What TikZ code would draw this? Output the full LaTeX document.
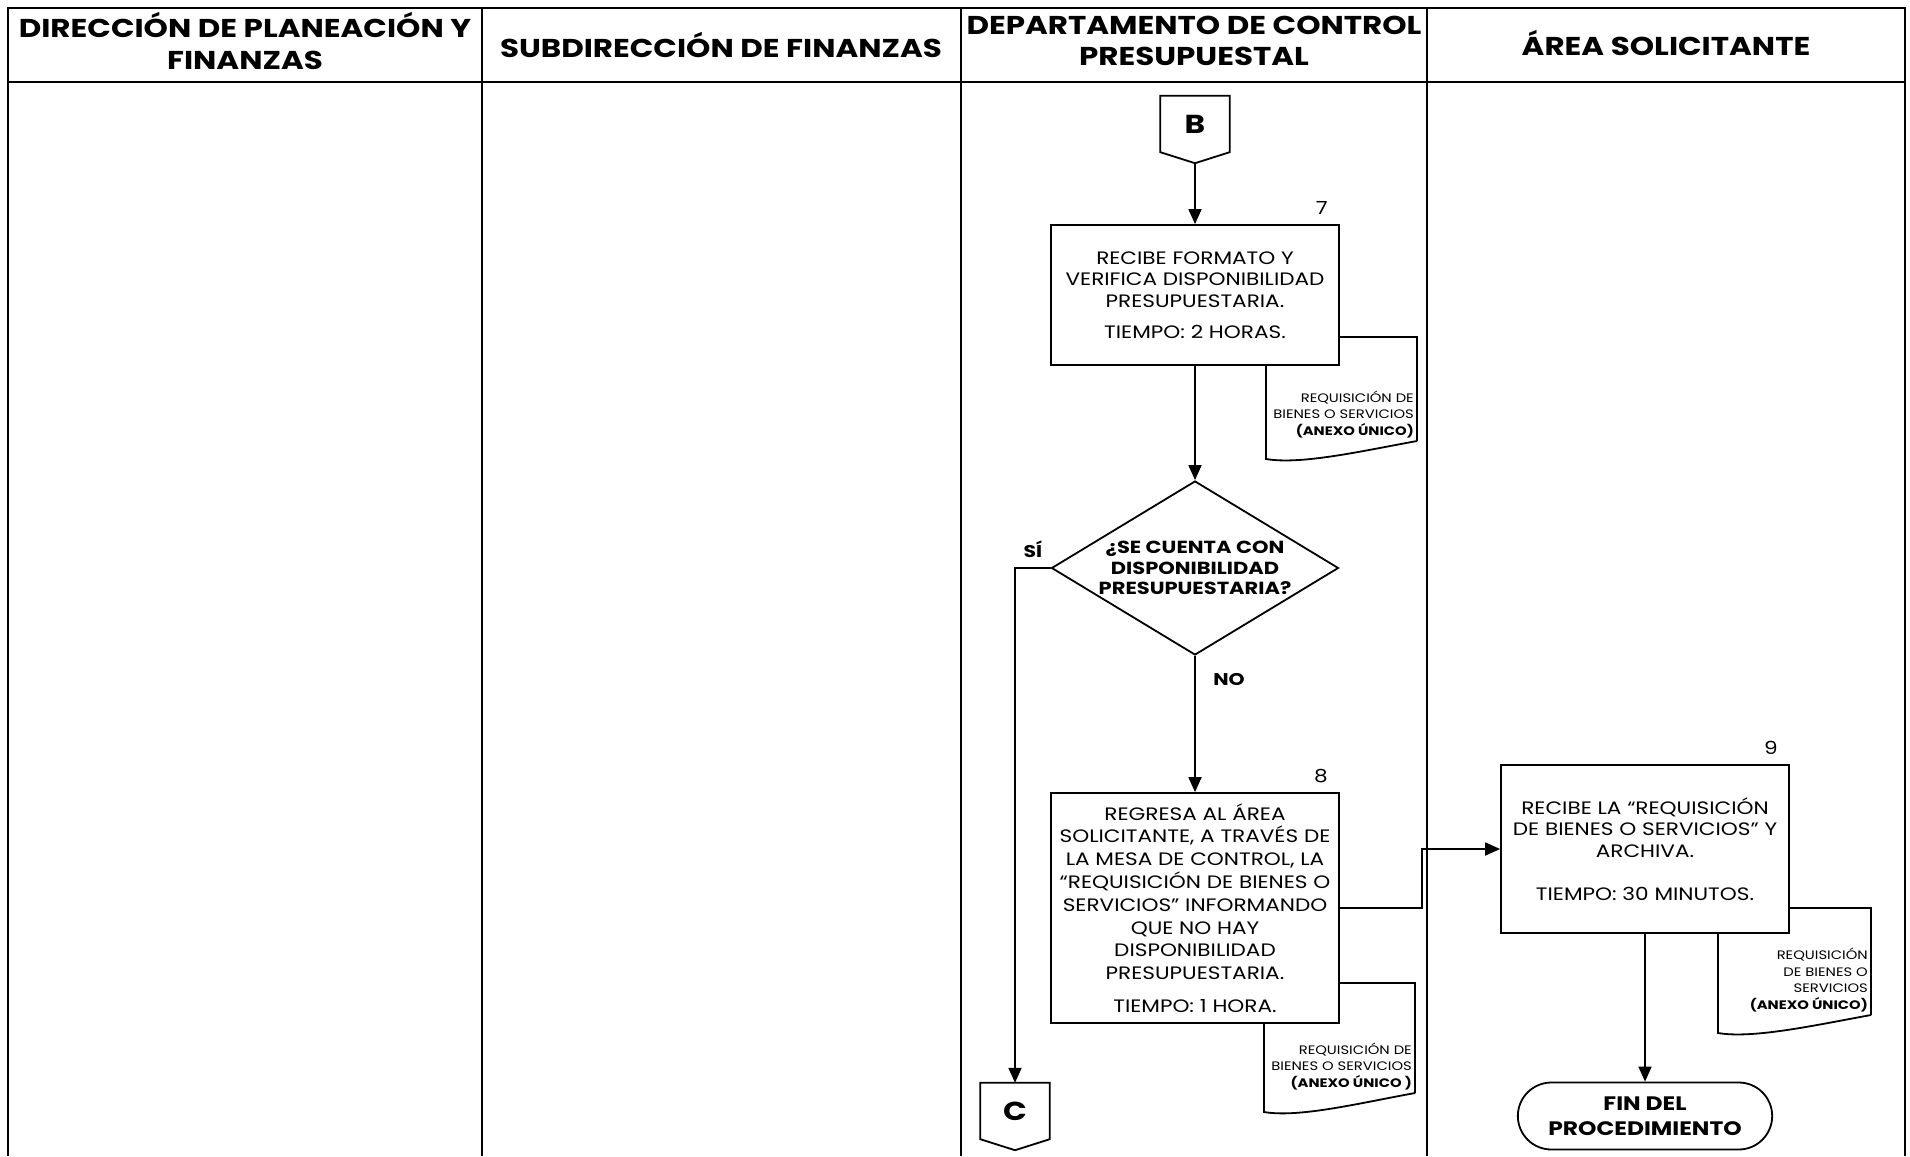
\documentclass[tikz,border=0pt]{standalone}
\usepackage{fontspec}
\setmainfont{Poppins}[FakeStretch=1.2]
\usetikzlibrary{positioning,arrows.meta,shapes.geometric,shapes.misc}

\begin{document}
\begin{tikzpicture}[
  x=1pt, y=-1pt, >={Triangle[length=15pt,width=13pt]},
  lane/.style={line width=1.6pt},
  hdr/.style={align=center,font=\fontsize{25.8}{31.5}\selectfont\bfseries},
  proc/.style={draw,line width=1.8pt,fill=white,minimum width=288pt,align=center,
               font=\fontsize{18}{21.5}\selectfont,inner sep=0pt},
  dec/.style={diamond,draw,line width=1.8pt,fill=white,aspect=1.65,minimum width=287pt,
              minimum height=174pt,inner sep=0pt,align=center,
              font=\fontsize{17.5}{20.5}\selectfont\bfseries},
  doc/.style={align=right,font=\fontsize{12.3}{16.5}\selectfont,inner sep=3pt},
  docline/.style={line width=1.8pt},
  conn/.style={minimum width=69pt,minimum height=56pt,inner sep=0pt,
               font=\fontsize{26}{26}\selectfont\bfseries},
  fin/.style={rounded rectangle,draw,line width=1.8pt,minimum width=261pt,minimum height=67pt,
              align=center,font=\fontsize{19.5}{25}\selectfont\bfseries},
  num/.style={font=\fontsize{18}{18}\selectfont,anchor=south east,xshift=-10pt,yshift=7pt,inner sep=2pt},
  lbl/.style={font=\fontsize{17}{17}\selectfont\bfseries},
  arr/.style={->,line width=1.8pt}]
  \useasboundingbox (0,0) rectangle (1910,1156);
  % --- swimlane table ---
  \draw[lane] (8,1156) -- (8,8) -- (1905,8) -- (1905,1156);
  \draw[lane] (8,82) -- (1905,82);
  \foreach \x in {482,961,1427}
    \draw[lane] (\x,8) -- (\x,1156);
  \node[hdr] (h1) at (245,41)  {DIRECCIÓN DE PLANEACIÓN Y\\FINANZAS};
  \node[hdr] (h2) at (721,45)  {SUBDIRECCIÓN DE FINANZAS};
  \node[hdr] (h3) at (1194,41) {DEPARTAMENTO DE CONTROL\\PRESUPUESTAL};
  \node[hdr] (h4) at (1666,43) {ÁREA SOLICITANTE};
  % --- documents behind the activity boxes ---
  \node[doc,anchor=south east] (d7) at (1417,441)
    {REQUISICIÓN DE\\BIENES O SERVICIOS\\\textbf{(ANEXO ÚNICO)}};
  \draw[docline] (d7.south east) -- ++(0,-104) -- ++(-151,0) -- ++(0,122)
    .. controls +(35,6) and +(-55,10) .. (d7.south east);
  \node[doc,anchor=south east] (d8) at (1415,1093)
    {REQUISICIÓN DE\\BIENES O SERVICIOS\\\textbf{(ANEXO ÚNICO )}};
  \draw[docline] (d8.south east) -- ++(0,-110) -- ++(-151,0) -- ++(0,129)
    .. controls +(35,6) and +(-55,10) .. (d8.south east);
  \node[doc,anchor=south east] (d9) at (1871,1015)
    {REQUISICIÓN\\DE BIENES O\\SERVICIOS\\\textbf{(ANEXO ÚNICO)}};
  \draw[docline] (d9.south east) -- ++(0,-107) -- ++(-153,0) -- ++(0,125)
    .. controls +(35,6) and +(-55,10) .. (d9.south east);
  % --- connectors B and C ---
  \node[conn] (B) at (1195,124) {B};
  \draw[docline] (B.north west) -- (B.north east) -- (B.south east)
    -- ([yshift=-11pt]B.south) -- (B.south west) -- cycle;
  \node[conn] (C) at (1015,1111) {C};
  \draw[docline] (C.north west) -- (C.north east) -- (C.south east)
    -- ([yshift=-11pt]C.south) -- (C.south west) -- cycle;
  % --- activities ---
  \node[proc,minimum height=140pt,label={[num]north east:7}] (p7) at (1195,295)
    {RECIBE FORMATO Y\\VERIFICA DISPONIBILIDAD\\PRESUPUESTARIA.\\[10pt]TIEMPO: 2 HORAS.};
  \node[dec] (q) at (1195,568) {¿SE CUENTA CON\\DISPONIBILIDAD\\PRESUPUESTARIA?};
  \node[proc,minimum height=230pt,font=\fontsize{18}{22.8}\selectfont,
        label={[num]north east:8}] (p8) at (1195,908)
    {REGRESA AL ÁREA\\SOLICITANTE, A TRAVÉS DE\\LA MESA DE CONTROL, LA\\“REQUISICIÓN DE BIENES O\\SERVICIOS” INFORMANDO\\QUE NO HAY\\DISPONIBILIDAD\\PRESUPUESTARIA.\\[10pt]TIEMPO: 1 HORA.};
  \node[proc,minimum height=168pt,label={[num]north east:9}] (p9) at (1645,849)
    {RECIBE LA “REQUISICIÓN\\DE BIENES O SERVICIOS” Y\\ARCHIVA.\\[22pt]TIEMPO: 30 MINUTOS.};
  \node[fin] (fin) at (1645,1116) {FIN DEL\\PROCEDIMIENTO};
  % --- flow ---
  \draw[arr] ([yshift=-11pt]B.south) -- (p7);
  \draw[arr] (p7) -- (q);
  \draw[arr] (q.west) -| node[lbl,above=6pt,pos=0.25] {SÍ} (C.north);
  \draw[arr] (q.south) -- node[lbl,right=14pt,pos=0.17] {NO} (p8.north);
  \draw[arr] (p8.east) -- ++(82,0) |- (p9.west);
  \draw[arr] (p9) -- (fin);
\end{tikzpicture}
\end{document}
